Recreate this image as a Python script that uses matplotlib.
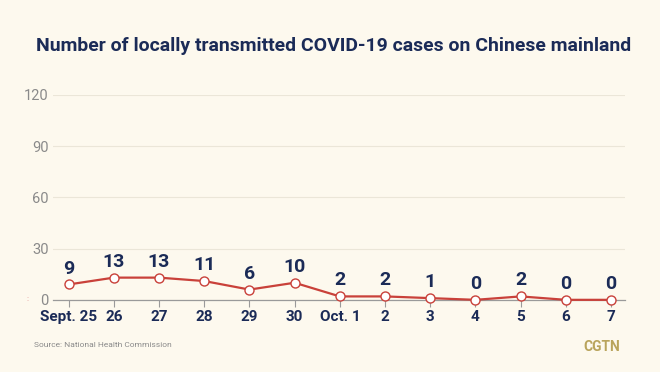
import matplotlib
matplotlib.use("Agg")
import matplotlib.pyplot as plt

# === Data ===
dates = ["Sept. 25", "26", "27", "28", "29", "30", "Oct. 1", "2", "3", "4", "5", "6", "7"]
cases = [9, 13, 13, 11, 6, 10, 2, 2, 1, 0, 2, 0, 0]
yticks = [0, 30, 60, 90, 120]

title = "Number of locally transmitted COVID-19 cases on Chinese mainland"
source = "Source: National Health Commission"

# === Style ===
bg = "#fdf9ee"
navy = "#1b2b57"
red = "#c9413a"
gray = "#8a8a8a"
plt.rcParams["font.family"] = ["Roboto", "DejaVu Sans"]

fig = plt.figure(figsize=(6.6, 3.72), dpi=100, facecolor=bg)
ax = fig.add_axes([0.080, 0.194, 0.867, 0.551], facecolor=bg)

x = list(range(len(dates)))
ax.plot(x, cases, color=red, lw=1.6, marker="o", ms=6.5,
        mfc="white", mec=red, mew=1.0, zorder=3, clip_on=False)

for xi, v in zip(x, cases):
    ax.annotate(str(v), (xi, v), xytext=(0, 5), textcoords="offset points",
                ha="center", va="bottom", fontsize=14, fontweight="bold", color=navy)

ax.set_ylim(0, 120)
ax.set_xlim(-0.35, len(dates) - 1 + 0.31)
ax.set_yticks(yticks)
ax.set_yticklabels([str(t) for t in yticks], color=gray, fontsize=10.5)
ax.set_xticks(x)
ax.set_xticklabels(dates, color=navy, fontsize=11, fontweight="bold")
ax.tick_params(axis="y", length=0, pad=3)
ax.tick_params(axis="x", length=5, color="#9a9a9a", width=0.8, pad=2)
ax.grid(axis="y", color="#ebe6d8", lw=0.8)
ax.set_axisbelow(True)
for s in ["top", "right", "left"]:
    ax.spines[s].set_visible(False)
ax.spines["bottom"].set_color("#9a9a9a")
ax.spines["bottom"].set_linewidth(0.9)

# === Text ===
t = fig.text(0.505, 0.877, title, ha="center", va="center", fontsize=17,
             fontweight="bold", color=navy)
# shrink title to the reference width (~596 px)
r = fig.canvas.get_renderer()
w = t.get_window_extent(r).width
t.set_fontsize(17 * 596 / w)

fig.text(0.052, 0.072, source, ha="left", va="center", fontsize=6, color=gray)
fig.text(0.94, 0.068, "CGTN", ha="right", va="center", fontsize=10,
         fontweight="bold", color="#b9a45c")
fig.text(0.041, 0.196, ":", ha="center", va="center", fontsize=6, color="#e08a8a")

fig.savefig("out.png", dpi=100, facecolor=bg)
